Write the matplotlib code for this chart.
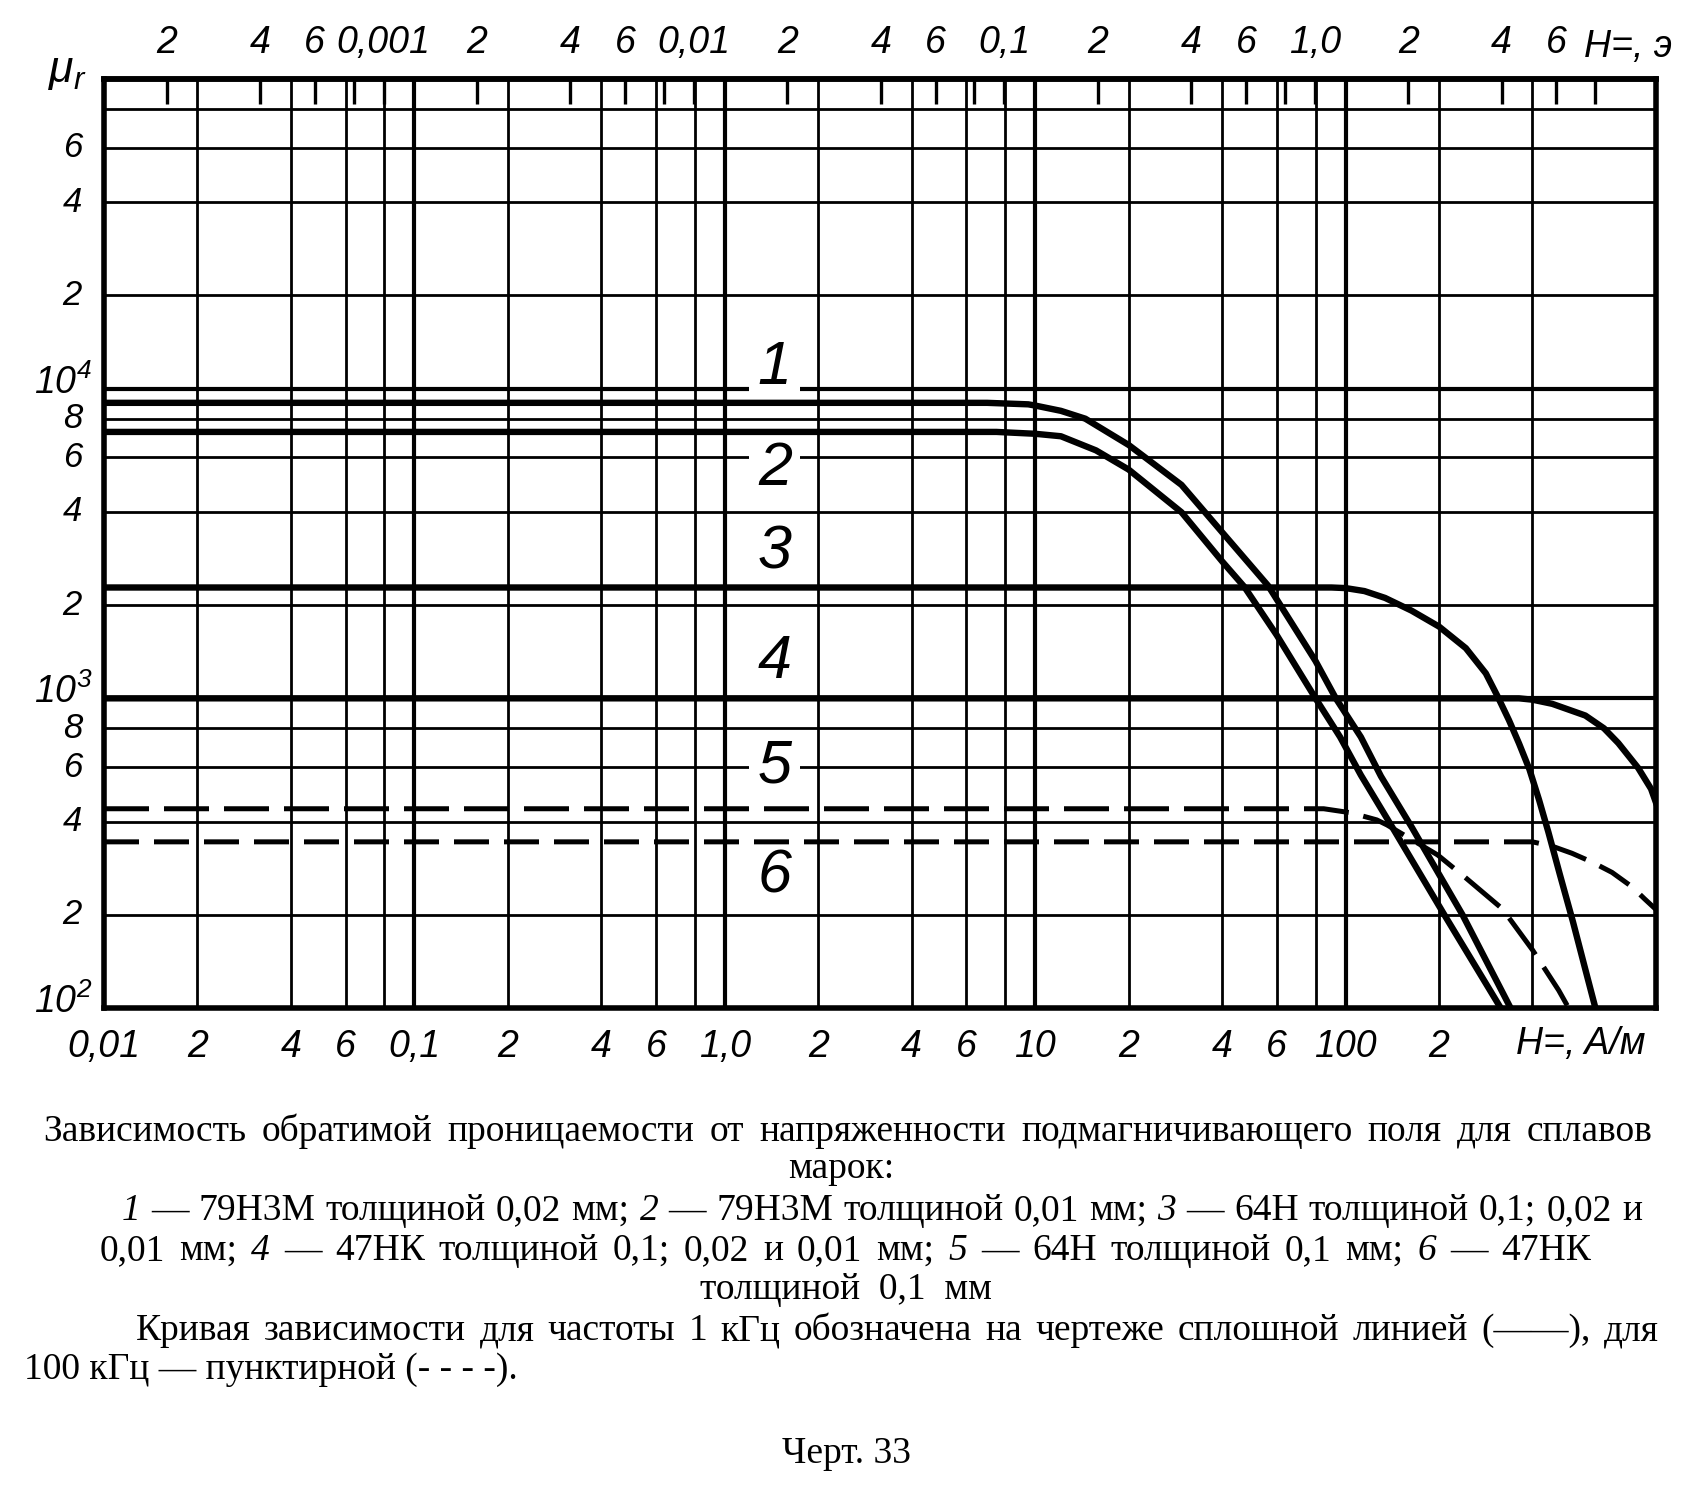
import matplotlib
matplotlib.use("Agg")
import matplotlib.pyplot as plt
from matplotlib import font_manager
from matplotlib.ticker import NullLocator
from matplotlib.transforms import blended_transform_factory, ScaledTranslation

h1 = [0.01, 7.0, 9.5, 10, 12.1, 14.5, 20, 29.6, 40, 56.3, 80, 93, 112, 130, 163, 238, 340]
mu1 = [9000, 9000, 8900, 8820, 8480, 8000, 6580, 4890, 3440, 2310, 1320, 1000, 750, 560, 385, 200, 100]

h2 = [0.01, 7.5, 10, 12.1, 15.7, 20, 29.6, 40, 47.2, 60, 80, 96, 112, 140, 208, 316]
mu2 = [7250, 7250, 7150, 7020, 6320, 5480, 3990, 2770, 2290, 1600, 1000, 750, 565, 390, 200, 100]

h3 = [0.01, 90, 100, 115, 134, 163, 200, 244, 283, 308, 336, 362, 391, 420, 450, 490, 540, 590, 638]
mu3 = [2280, 2280, 2270, 2220, 2110, 1920, 1705, 1452, 1204, 1020, 850, 715, 590, 470, 370, 270, 190, 135, 100]

h4 = [0.01, 362, 400, 463, 592, 680, 756, 876, 964, 1000]
mu4 = [1000, 1000, 990, 960, 880, 800, 717, 596, 510, 460]

# пунктир (100 кГц)
h5 = [0.01, 85, 104, 126, 136, 198, 244, 320, 400, 486, 523]
mu5 = [440, 440, 427, 405, 390, 312, 263, 209, 154, 114, 100]

h6 = [0.01, 400, 463, 536, 622, 722, 838, 919, 1000]
mu6 = [344, 344, 333, 316, 296, 274, 246, 225, 208]

curve_names = ['1', '2', '3', '4', '5', '6']

# шкалы
x_ticks = [0.01, 0.02, 0.04, 0.06, 0.1, 0.2, 0.4, 0.6, 1, 2, 4, 6, 10, 20, 40, 60, 100, 200]
x_labels = ['0,01', '2', '4', '6', '0,1', '2', '4', '6', '1,0', '2', '4', '6', '10', '2', '4', '6', '100', '2']
oe_ticks = [0.0002, 0.0004, 0.0006, 0.0008, 0.001, 0.002, 0.004, 0.006, 0.008, 0.01,
            0.02, 0.04, 0.06, 0.08, 0.1, 0.2, 0.4, 0.6, 0.8, 1.0, 2, 4, 6, 8]
oe_labels = ['2', '4', '6', '', '0,001', '2', '4', '6', '', '0,01',
             '2', '4', '6', '', '0,1', '2', '4', '6', '', '1,0', '2', '4', '6', '']
y_ticks = [100, 200, 400, 600, 800, 1000, 2000, 4000, 6000, 8000, 10000, 20000, 40000, 60000]
y_labels = [r'$10^2$', '2', '4', '6', '8', r'$10^3$', '2', '4', '6', '8', r'$10^4$', '2', '4', '6']
grid_x = [0.02, 0.04, 0.06, 0.08, 0.1, 0.2, 0.4, 0.6, 0.8, 1, 2, 4, 6, 8, 10,
          20, 40, 60, 80, 100, 200, 400]
grid_y = [200, 400, 600, 800, 1000, 2000, 4000, 6000, 8000, 10000, 20000, 40000, 60000, 80000]
decades = [0.1, 1, 10, 100, 1000, 10000]
A_PER_OE = 79.577

caption = [
    'Зависимость обратимой проницаемости от напряженности подмагничивающего поля для сплавов',
    '*1 — 79Н3М толщиной 0,02 мм; *2 — 79Н3М толщиной 0,01 мм; *3 — 64Н толщиной 0,1; 0,02 и',
    '0,01 мм; *4 — 47НК толщиной 0,1; 0,02 и 0,01 мм; *5 — 64Н толщиной 0,1 мм; *6 — 47НК',
    'Кривая зависимости для частоты 1 кГц обозначена на чертеже сплошной линией (——), для',
]

names = {f.name for f in font_manager.fontManager.ttflist}
sans = 'Liberation Sans Narrow' if 'Liberation Sans Narrow' in names else 'Liberation Sans'
serif = 'Liberation Serif'
plt.rcParams['mathtext.fontset'] = 'custom'
plt.rcParams['mathtext.rm'] = sans + ':italic'
plt.rcParams['mathtext.it'] = sans + ':italic'

W, H = 1700, 1494
fig = plt.figure(figsize=(W / 100, H / 100), dpi=100)
ax_w = 1656 - 104
ax = fig.add_axes([104 / W, 1 - 1008 / H, ax_w / W, (1008 - 79) / H])
ax.set_xscale('log')
ax.set_yscale('log')
ax.set_xlim(0.01, 1000)
ax.set_ylim(100, 100000)

for g in grid_x:
    ax.axvline(g, color='black', lw=3.0 if g in decades else 2.0, zorder=1)
for g in grid_y:
    ax.axhline(g, color='black', lw=3.0 if g in decades else 2.0, zorder=1)

for h, mu in [(h1, mu1), (h2, mu2), (h3, mu3), (h4, mu4)]:
    ax.plot(h, mu, color='black', lw=4.6, solid_joinstyle='round', zorder=3)
ax.plot(h5, mu5, color='black', lw=3.6, dashes=(9, 3), zorder=3)
ax.plot(h6, mu6, color='black', lw=3.6, dashes=(7, 3), zorder=3)

label_y = [11600, 5500, 2950, 1310, 600, 265]
for name, yv in zip(curve_names, label_y):
    ax.text(1.45, yv, name, fontsize=44, fontstyle='italic', family=sans,
            ha='center', va='center', zorder=2,
            bbox=dict(facecolor='white', edgecolor='none', pad=6))

for s in ax.spines.values():
    s.set_linewidth(4)
    s.set_zorder(4)

ax.xaxis.set_minor_locator(NullLocator())
ax.yaxis.set_minor_locator(NullLocator())
ax.set_xticks(x_ticks, x_labels, fontsize=27, fontstyle='italic', family=sans)
ax.set_yticks([])
ax.tick_params(axis='both', which='both', length=0)
ax.tick_params(axis='x', pad=15)

# подписи оси mu_r
ytr = blended_transform_factory(ax.transAxes, ax.transData)
for yv, lab in zip(y_ticks, y_labels):
    if lab.startswith('$'):
        ax.text(-12 / ax_w, yv, lab, fontsize=27,
                transform=ytr + ScaledTranslation(0, -0.05, fig.dpi_scale_trans),
                ha='right', va='baseline')
    else:
        ax.text(-22 / ax_w, yv, lab, fontsize=25, fontstyle='italic', family=sans,
                transform=ytr, ha='right', va='center')

sec = ax.secondary_xaxis('top', functions=(lambda h: h / A_PER_OE, lambda oe: oe * A_PER_OE))
sec.xaxis.set_minor_locator(NullLocator())
sec.set_xticks(oe_ticks, oe_labels, fontsize=27, fontstyle='italic', family=sans)
sec.tick_params(direction='in', length=18, width=2.4, pad=13)
sec.spines['top'].set_linewidth(4)

fig.text(67 / W, 1 - 70 / H, r'$\mu_r$', fontsize=32, ha='center', va='center')
fig.text(1628 / W, 1 - 47 / H, 'H=, э', fontsize=27, fontstyle='italic', family=sans,
         ha='center', va='center')
fig.text(1645 / W, 1 - 1044 / H, 'H=, A/м', fontsize=27, fontstyle='italic', family=sans,
         ha='right', va='center')

# подрисуночная подпись
renderer = fig.canvas.get_renderer()
CAP = 27


def justify(line, x0, x1, base):
    texts = []
    for w in line.split():
        italic = w.startswith('*')
        t = fig.text(0, 1 - base / H, w.lstrip('*'), fontsize=CAP, family=serif,
                     fontstyle='italic' if italic else 'normal', va='baseline')
        texts.append(t)
    widths = [t.get_window_extent(renderer).width for t in texts]
    gap = max((x1 - x0 - sum(widths)) / (len(texts) - 1), 6)
    x = x0
    for t, w in zip(texts, widths):
        t.set_x(x / W)
        x += w + gap


justify(caption[0], 43, 1653, 1141)
fig.text(841 / W, 1 - 1178 / H, 'марок:', fontsize=CAP, family=serif, ha='center', va='baseline')
justify(caption[1], 122, 1642, 1220)
justify(caption[2], 100, 1591, 1260)
fig.text(846 / W, 1 - 1299 / H, 'толщиной  0,1  мм', fontsize=CAP, family=serif,
         ha='center', va='baseline')
justify(caption[3], 136, 1659, 1340)
fig.text(24 / W, 1 - 1379 / H, '100 кГц — пунктирной (- - - -).', fontsize=CAP, family=serif,
         ha='left', va='baseline')
fig.text(846 / W, 1 - 1463 / H, 'Черт. 33', fontsize=CAP, family=serif,
         ha='center', va='baseline')

fig.savefig('out.png', dpi=100, facecolor='white')
